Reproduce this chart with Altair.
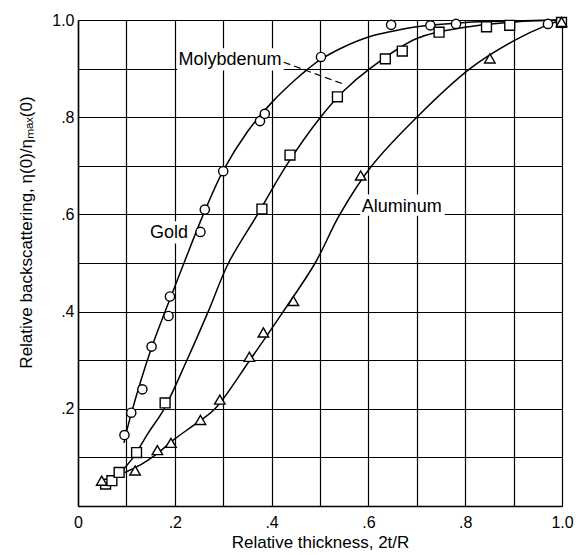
import altair as alt
import pandas as pd

# Measured points (relative thickness, relative backscattering)
gold_x = [0.096, 0.110, 0.133, 0.152, 0.187, 0.190, 0.253, 0.262, 0.300, 0.376, 0.386, 0.502, 0.647, 0.728, 0.781, 0.971, 0.998]
gold_y = [0.146, 0.192, 0.240, 0.328, 0.391, 0.431, 0.564, 0.610, 0.689, 0.792, 0.807, 0.924, 0.990, 0.989, 0.992, 0.992, 0.994]

moly_x = [0.057, 0.070, 0.085, 0.121, 0.180, 0.380, 0.438, 0.536, 0.635, 0.670, 0.746, 0.844, 0.892, 0.999]
moly_y = [0.045, 0.052, 0.069, 0.110, 0.212, 0.611, 0.722, 0.842, 0.920, 0.936, 0.975, 0.986, 0.989, 0.995]

alu_x = [0.049, 0.118, 0.164, 0.192, 0.253, 0.293, 0.354, 0.383, 0.445, 0.584, 0.851, 0.999]
alu_y = [0.052, 0.073, 0.115, 0.130, 0.177, 0.219, 0.307, 0.357, 0.422, 0.680, 0.921, 0.996]

# Fitted curves traced through the data
gold_cx = [0.095, 0.110, 0.150, 0.180, 0.219, 0.259, 0.300, 0.350, 0.400, 0.450, 0.476, 0.500, 0.550, 0.600, 0.650, 0.700, 0.800, 0.900, 1.000]
gold_cy = [0.130, 0.190, 0.320, 0.400, 0.500, 0.600, 0.690, 0.770, 0.830, 0.878, 0.900, 0.918, 0.945, 0.965, 0.977, 0.986, 0.995, 0.998, 1.000]

moly_cx = [0.085, 0.114, 0.145, 0.178, 0.225, 0.269, 0.311, 0.371, 0.430, 0.501, 0.550, 0.603, 0.700, 0.800, 0.900, 1.000]
moly_cy = [0.065, 0.100, 0.150, 0.200, 0.300, 0.400, 0.500, 0.600, 0.700, 0.800, 0.855, 0.900, 0.962, 0.985, 0.996, 1.000]

alu_cx = [0.097, 0.130, 0.160, 0.200, 0.240, 0.283, 0.355, 0.424, 0.490, 0.541, 0.607, 0.700, 0.810, 0.900, 0.970, 1.000]
alu_cy = [0.069, 0.085, 0.105, 0.138, 0.167, 0.200, 0.300, 0.400, 0.500, 0.600, 0.700, 0.800, 0.900, 0.957, 0.990, 1.000]

series = ["Gold", "Molybdenum", "Aluminum"]
shapes = ["circle", "square", "triangle-up"]

# Curve labels and their placement
label_text = ["Molybdenum", "Gold", "Aluminum"]
label_x = [0.314, 0.188, 0.669]
label_y = [0.918, 0.562, 0.615]
# white patches that break the grid behind each label
patch_x = [0.205, 0.152, 0.583]
patch_x2 = [0.425, 0.226, 0.758]
patch_y = [0.896, 0.540, 0.597]
patch_y2 = [0.942, 0.586, 0.641]

# dashed leader from the Molybdenum label to its curve
leader_x = [0.425]
leader_y = [0.913]
leader_x2 = [0.552]
leader_y2 = [0.867]

ticks = [round(i * 0.1, 1) for i in range(11)]

pts = pd.concat([
    pd.DataFrame({"x": gold_x, "y": gold_y, "s": "Gold"}),
    pd.DataFrame({"x": moly_x, "y": moly_y, "s": "Molybdenum"}),
    pd.DataFrame({"x": alu_x, "y": alu_y, "s": "Aluminum"}),
], ignore_index=True)
curves = pd.concat([
    pd.DataFrame({"x": gold_cx, "y": gold_cy, "s": "Gold"}),
    pd.DataFrame({"x": moly_cx, "y": moly_cy, "s": "Molybdenum"}),
    pd.DataFrame({"x": alu_cx, "y": alu_cy, "s": "Aluminum"}),
], ignore_index=True)
labels = pd.DataFrame({"t": label_text, "x": label_x, "y": label_y})
patches = pd.DataFrame({"x": patch_x, "x2": patch_x2, "y": patch_y, "y2": patch_y2})
leader = pd.DataFrame({"x": leader_x, "y": leader_y, "x2": leader_x2, "y2": leader_y2})

FONT = "Liberation Sans"
# x axis: shared origin "0" sits a little left of the corner
x_label_expr = ("datum.value == 0 ? '0\u00a0\u00a0\u00a0' : datum.value == 1 ? '1.0' : "
                "(round(datum.value * 10) % 2 == 0 ? '.' + round(datum.value * 10) : '')")
y_label_expr = ("datum.value == 0 ? '' : datum.value == 1 ? '1.0' : "
                "(round(datum.value * 10) % 2 == 0 ? '.' + round(datum.value * 10) : '')")

xscale = alt.Scale(domain=[0, 1], nice=False)
yscale = alt.Scale(domain=[0, 1], nice=False)

x_axis = alt.Axis(values=ticks, labelExpr=x_label_expr, grid=True, gridColor="black",
                  gridWidth=1.2, gridOpacity=1, ticks=False, domainColor="black",
                  domainWidth=1.5, labelFont=FONT, labelFontSize=16, labelColor="black",
                  labelPadding=8, title="Relative thickness, 2t/R", titleFont=FONT,
                  titleFontSize=17, titleFontWeight="normal", titleColor="black",
                  titlePadding=4, labelFlush=False)
y_axis = alt.Axis(values=ticks, labelExpr=y_label_expr, grid=True, gridColor="black",
                  gridWidth=1.2, gridOpacity=1, ticks=False, domainColor="black",
                  domainWidth=1.5, labelFont=FONT, labelFontSize=16, labelColor="black",
                  labelPadding=4, title="Relative backscattering, η(0)/ηₘₐₓ(0)",
                  titleFont=FONT, titleFontSize=17, titleFontWeight="normal",
                  titleColor="black", titlePadding=16, titleY=212, labelFlush=False)

lines = alt.Chart(curves).mark_line(interpolate="catmull-rom", color="black", strokeWidth=1.5).encode(
    x=alt.X("x:Q", scale=xscale, axis=x_axis),
    y=alt.Y("y:Q", scale=yscale, axis=y_axis),
    detail="s:N")

rects = alt.Chart(patches).mark_rect(color="white").encode(
    x=alt.X("x:Q", scale=xscale), x2="x2:Q", y=alt.Y("y:Q", scale=yscale), y2="y2:Q")

lead = alt.Chart(leader).mark_rule(color="black", strokeWidth=1.2, strokeDash=[7, 4]).encode(
    x=alt.X("x:Q", scale=xscale), y=alt.Y("y:Q", scale=yscale), x2="x2:Q", y2="y2:Q")

points = alt.Chart(pts).mark_point(filled=False, fill="white", fillOpacity=1, stroke="black",
                                    strokeWidth=1.4, opacity=1).encode(
    x=alt.X("x:Q", scale=xscale), y=alt.Y("y:Q", scale=yscale),
    shape=alt.Shape("s:N", scale=alt.Scale(domain=series, range=shapes), legend=None),
    size=alt.Size("s:N", scale=alt.Scale(domain=series, range=[85, 110, 100]), legend=None))

texts = alt.Chart(labels).mark_text(font=FONT, fontSize=18, color="black", baseline="middle",
                                    align="center").encode(
    x=alt.X("x:Q", scale=xscale), y=alt.Y("y:Q", scale=yscale), text="t:N")

chart = alt.layer(lines, rects, lead, points, texts).properties(
    width=484, height=486,
    autosize=alt.AutoSizeParams(type="none"),
    padding={"left": 78, "top": 20, "right": 14, "bottom": 49},
).configure_view(stroke="black", strokeWidth=1.5).configure(background="white")

chart.save("out.html", embed_options={"renderer": "svg", "actions": False})
